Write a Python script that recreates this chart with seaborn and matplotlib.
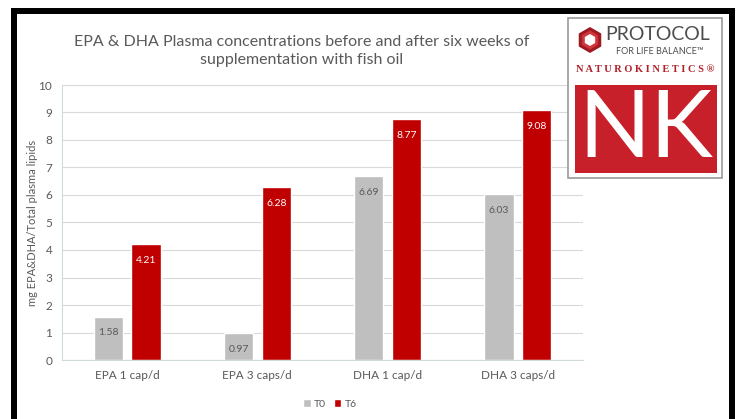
import numpy as np
import pandas as pd
import matplotlib
matplotlib.use("Agg")
import matplotlib.pyplot as plt
import seaborn as sns
from matplotlib.patches import Rectangle, RegularPolygon

# ----------------------------------------------------------------------------
# data
# ----------------------------------------------------------------------------
categories = ["EPA 1 cap/d", "EPA 3 caps/d", "DHA 1 cap/d", "DHA 3 caps/d"]
t0_values = [1.58, 0.97, 6.69, 6.03]
t6_values = [4.21, 6.28, 8.77, 9.08]
series_names = ["T0", "T6"]
y_ticks = list(range(0, 11))

GRAY = "#BFBFBF"
RED = "#C00000"
TXT = "#595959"

df = pd.DataFrame({
    "category": categories * 2,
    "series": [series_names[0]] * 4 + [series_names[1]] * 4,
    "value": t0_values + t6_values,
})

sns.set_theme(style="white")
plt.rcParams["font.family"] = ["Lato", "DejaVu Sans"]

W, H = 737, 419
fig = plt.figure(figsize=(W / 100, H / 100), dpi=100)
ax = fig.add_axes([62 / W, 1 - 360 / H, 521 / W, 275 / H])

sns.barplot(data=df, x="category", y="value", hue="series",
            palette=[GRAY, RED], width=0.58, gap=0.22,
            saturation=1, ax=ax, legend=True)

ax.set_ylim(0, 10)
ax.set_yticks(y_ticks)
ax.set_xlim(-0.5, 3.5)
ax.grid(axis="y", color="#D9D9D9", linewidth=0.8)
ax.set_axisbelow(True)
for s in ["top", "right"]:
    ax.spines[s].set_visible(False)
for s in ["left", "bottom"]:
    ax.spines[s].set_color("#D0DCDC")
    ax.spines[s].set_linewidth(0.8)
ax.tick_params(axis="both", length=0, labelsize=8.5, colors=TXT, pad=7)
ax.set_xlabel("")
ax.set_ylabel("mg EPA&DHA/Total plasma lipids", fontsize=8, color=TXT)
ax.yaxis.set_label_coords((38 - 62) / 521, 0.5)

# value labels inside the bars
for container, col in zip(ax.containers, [TXT, "white"]):
    ax.bar_label(container, fmt="%.2f", label_type="edge", padding=-15,
                 fontsize=7.5, color=col)

leg = ax.legend(loc="center", bbox_to_anchor=(330 / W, 1 - 404 / H),
                bbox_transform=fig.transFigure, ncol=2,
                frameon=False, fontsize=7.5, handlelength=0.7, handleheight=0.7,
                handletextpad=0.3, columnspacing=0.8)
for t in leg.get_texts():
    t.set_color(TXT)

fig.text(302 / W, 1 - 51 / H, "EPA & DHA Plasma concentrations before and after six weeks of\n"
         "supplementation with fish oil", ha="center", va="center",
         fontsize=11.5, color=TXT, linespacing=1.45)

# overlay in pixel coordinates for logo and frame
ov = fig.add_axes([0, 0, 1, 1], zorder=5)
ov.set_xlim(0, W)
ov.set_ylim(H, 0)
ov.axis("off")
ov.patch.set_alpha(0)

ov.add_patch(Rectangle((568, 18), 154, 160, facecolor="white",
                       edgecolor="#9A9A9A", linewidth=1.2))
ov.add_patch(Rectangle((575, 85), 142, 88, facecolor="#C8202A", edgecolor="none"))
ov.add_patch(RegularPolygon((590, 40), numVertices=6, radius=13, orientation=0,
                            facecolor="#9E1B22", edgecolor="none"))
ov.add_patch(RegularPolygon((590, 40), numVertices=6, radius=9.5, orientation=0,
                            facecolor="#D2343C", edgecolor="none"))
ov.add_patch(RegularPolygon((590, 40), numVertices=6, radius=6, orientation=0,
                            facecolor="white", edgecolor="none"))
ov.text(658, 34, "PROTOCOL", ha="center", va="center",
        fontsize=14, color="#4D4D4D")
ov.text(660, 52, "FOR LIFE BALANCE\u2122", ha="center", va="center",
        fontsize=6.5, color="#4D4D4D")
ov.text(645, 70, "N A T U R O K I N E T I C S \u00ae", ha="center", va="center",
        fontsize=7.5, color="#B0202A", fontweight="bold",
        family=["Liberation Serif", "DejaVu Serif"])
ov.text(646, 131, "NK", ha="center", va="center",
        fontsize=68, color="white", family=["Lato", "DejaVu Sans"])

# black frame
ov.add_patch(Rectangle((11, 8), 6, H, facecolor="black", edgecolor="none"))
ov.add_patch(Rectangle((729, 8), 6, H, facecolor="black", edgecolor="none"))
ov.add_patch(Rectangle((11, 8), 724, 6, facecolor="black", edgecolor="none"))

fig.savefig("out.png", dpi=100)
